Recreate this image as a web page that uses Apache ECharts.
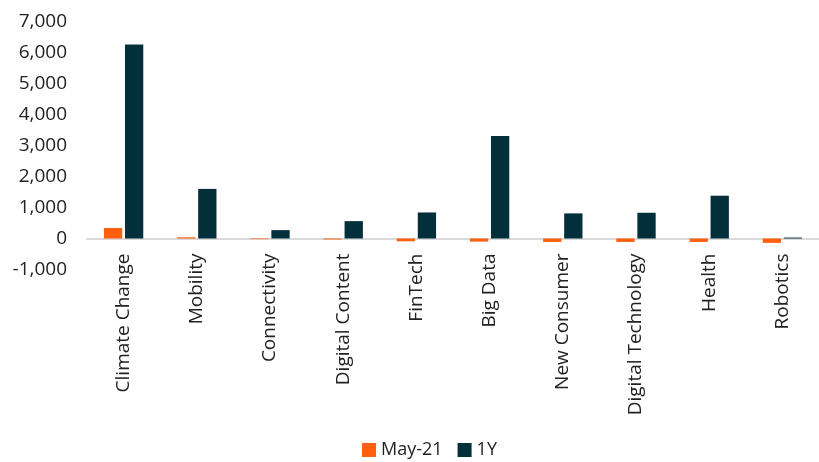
<!DOCTYPE html>
<html>
<head>
<meta charset="utf-8">
<script src="https://cdn.jsdelivr.net/npm/echarts@6/dist/echarts.min.js"></script>
<style>
  html, body { margin: 0; padding: 0; background: #fff; }
  #chart { width: 819px; height: 462px; }
</style>
</head>
<body>
<div id="chart"></div>
<script>
const categories = [
  "Climate Change", "Mobility", "Connectivity", "Digital Content", "FinTech",
  "Big Data", "New Consumer", "Digital Technology", "Health", "Robotics"
];
const may21 = [340, 40, -20, -30, -90, -100, -110, -110, -110, -140];
const oneYear = [6260, 1600, 270, 560, 840, 3310, 810, 830, 1380, 30];

const chart = echarts.init(document.getElementById("chart"));
const font = "'Open Sans', 'Noto Sans', sans-serif";

chart.setOption({
  animation: false,
  color: ["#FF5F0F", "#022F3A"],
  legend: {
    data: ["May-21", "1Y"],
    top: 441,
    left: 362,
    padding: 0,
    itemWidth: 14,
    itemHeight: 14,
    itemGap: 15,
    icon: "rect",
    textStyle: { fontFamily: font, fontSize: 18, color: "#222" }
  },
  grid: { left: 87, right: -7, top: 21.5, bottom: 192.5, containLabel: false },
  xAxis: {
    type: "category",
    data: categories,
    axisLine: { lineStyle: { color: "#D9D9D9", width: 2 } },
    axisTick: { show: false },
    axisLabel: {
      interval: 0,
      rotate: 90,
      margin: -16,
      fontFamily: font,
      fontSize: 19,
      color: "#222"
    }
  },
  yAxis: {
    type: "value",
    min: -1000,
    max: 7000,
    interval: 1000,
    axisLine: { show: false },
    axisTick: { show: false },
    splitLine: { show: false },
    axisLabel: {
      margin: 20,
      fontFamily: font,
      fontSize: 19,
      color: "#222",
      formatter: v => v.toLocaleString("en-US")
    }
  },
  series: [
    { name: "May-21", type: "bar", data: may21, barWidth: "25%", barGap: "15%" },
    { name: "1Y", type: "bar", data: oneYear, barWidth: "25%", barGap: "15%" }
  ]
});
</script>
</body>
</html>
